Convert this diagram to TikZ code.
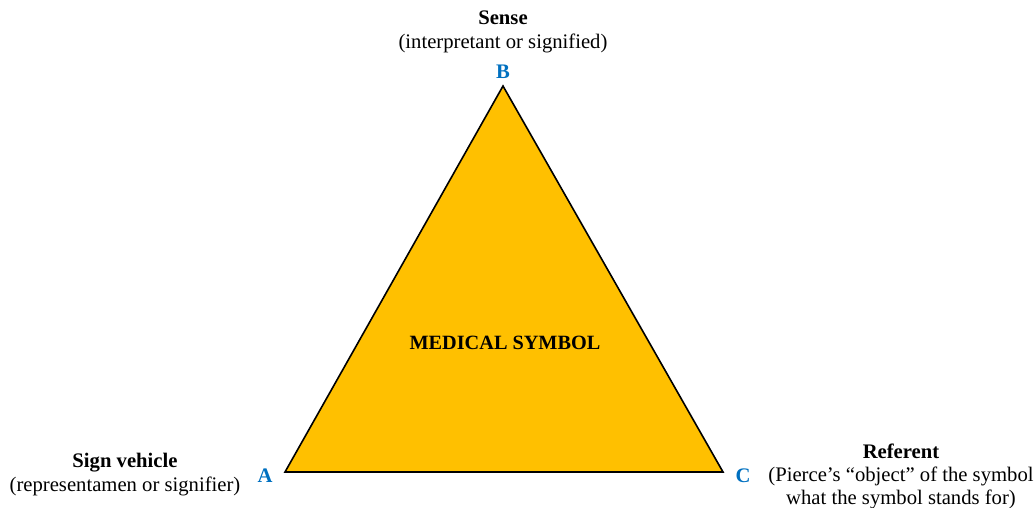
\documentclass[tikz,border=0pt]{standalone}
\usepackage{fontspec}
\setmainfont{Liberation Serif}
\usetikzlibrary{positioning}
\definecolor{symfill}{HTML}{FFC000}
\definecolor{vtxblue}{HTML}{0070C0}
\tikzset{
    vtx/.style={ % corner letter
        text=vtxblue,
        font=\fontsize{15.5pt}{17pt}\selectfont\bfseries,
        inner sep=0pt
        },
    captxt/.style={ % corner caption
        align=center,
        inner sep=0pt,
        font=\fontsize{15.5pt}{18pt}\selectfont
        },
    tri/.style={ % the triangle
        fill=symfill,
        draw=black,
        line width=1.2pt,
        line join=miter
        }
}

\begin{document}
\begin{tikzpicture}[x=0.75pt,y=-0.75pt]
\useasboundingbox (0,0) rectangle (1034,507);
\clip (0,0) rectangle (1034,507);

%%%%% corners
\coordinate (A) at (285,472);
\coordinate (B) at (503,86);
\coordinate (C) at (723,472);

%%%%% triangle
\draw[tri] (A) -- (B) -- (C) -- cycle;

%%%%% centre text
\node[captxt, font=\fontsize{15.2pt}{17pt}\selectfont\bfseries] (sym) at (505,343) {MEDICAL SYMBOL};

%%%%% corner letters
\node[vtx] (lA) at (265,476) {A};
\node[vtx] (lB) at (503,72) {B};
\node[vtx] (lC) at (743,476) {C};

%%%%% captions
\node[captxt] (sense) at (503,32) {\textbf{Sense}\\(interpretant or signified)};
\node[captxt] (sign) at (125,475) {\textbf{Sign vehicle}\\(representamen or signifier)};
\node[captxt, font=\fontsize{15.5pt}{17.25pt}\selectfont] (ref) at (901,476) {\textbf{Referent}\\(Pierce's ``object'' of the symbol\\what the symbol stands for)};

\end{tikzpicture}
\end{document}
